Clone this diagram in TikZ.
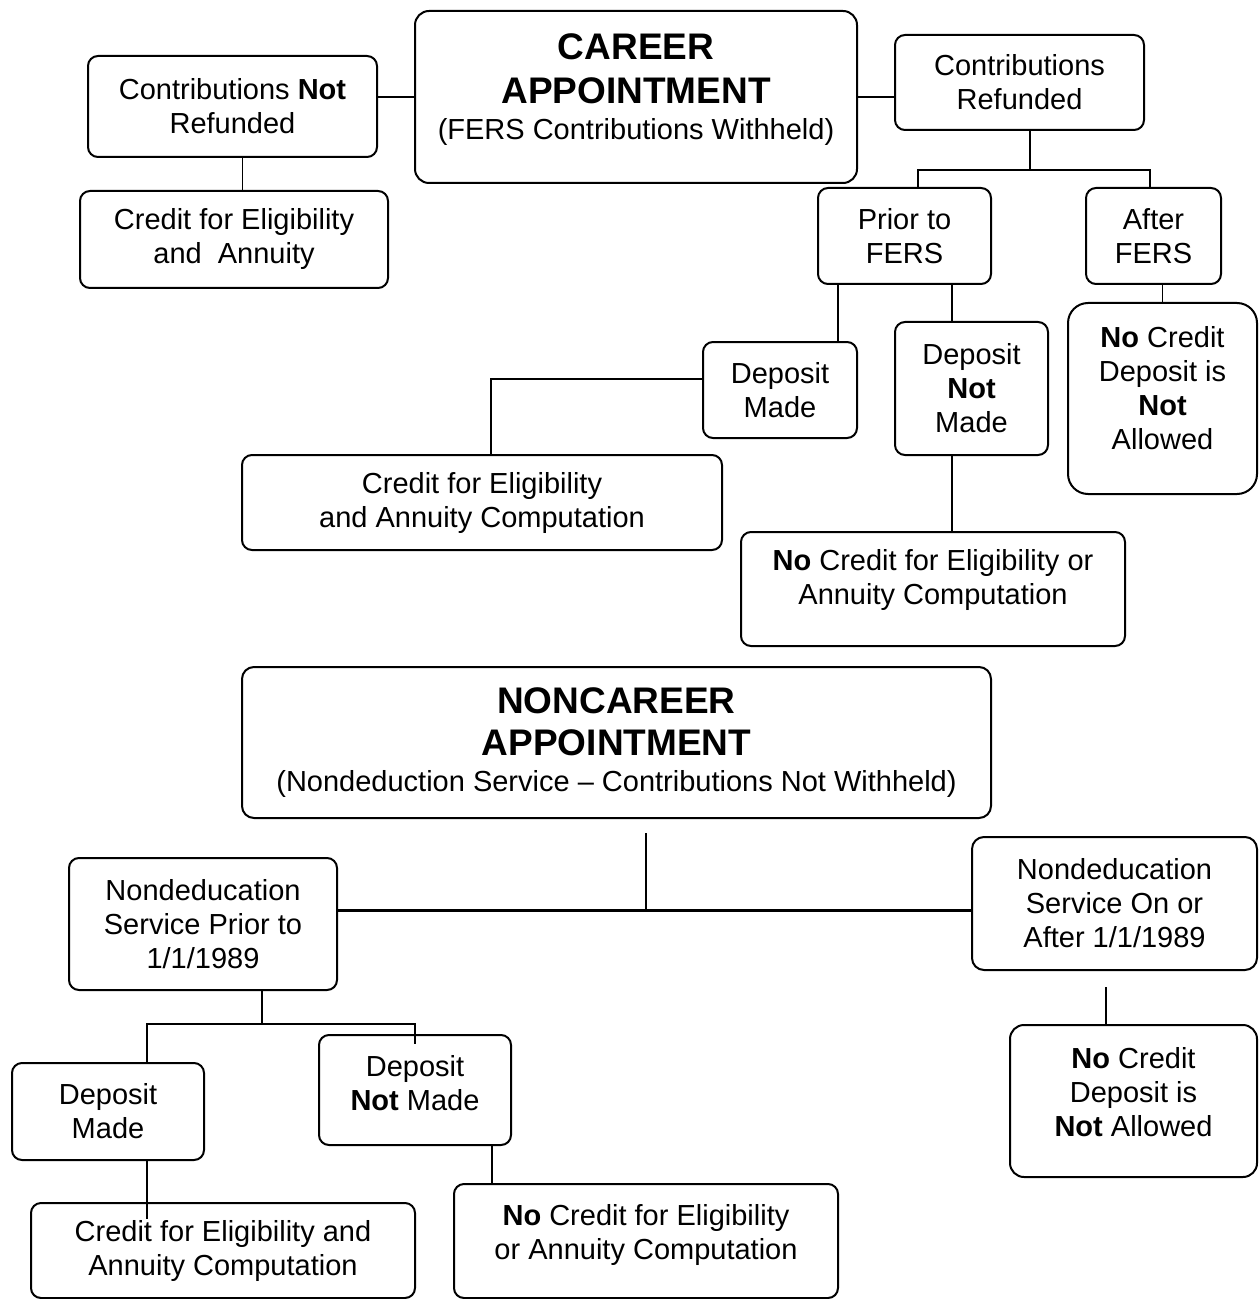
\documentclass[tikz,border=0pt]{standalone}
\usepackage{fontspec}
\setmainfont{Liberation Sans}
\newcommand{\titlefont}{\fontsize{18.5}{22}\selectfont\bfseries}
\newcommand{\subfont}{\fontsize{14.5}{18}\selectfont\mdseries}
\tikzset{
  box/.style={draw, line width=1pt, rounded corners=5pt, align=center, inner sep=0pt, font=\fontsize{14.5}{17}\selectfont},
  txt/.style={align=center, inner sep=0pt, font=\fontsize{14.5}{17}\selectfont},
  link/.style={line width=0.75pt},
}
\begin{document}
\begin{tikzpicture}[x=0.5pt, y=-0.5pt]
\useasboundingbox (0,0) rectangle (1258,1299);

% career appointment
\node[box, rounded corners=7pt, minimum width=221pt, minimum height=86pt] (career) at (636,97) {};
\node[txt] (career-t) at ([yshift=3.5pt]career.center) {\titlefont CAREER\\[5pt]\titlefont APPOINTMENT\\[1pt]\subfont(FERS Contributions Withheld)};
\node[box, minimum width=144.5pt, minimum height=50.5pt] (notref) at (232.5,106.5) {Contributions \textbf{Not}\\Refunded};
\node[box, minimum width=154pt, minimum height=48.5pt] (credea) at (234,239.5) {Credit for Eligibility\\and~~Annuity};
\node[box, minimum width=124.5pt, minimum height=47.5pt] (contref) at (1019.5,82.5) {Contributions\\Refunded};
\node[box, minimum width=86.5pt, minimum height=48pt] (prior) at (904.5,236) {Prior to\\FERS};
\node[box, minimum width=67.5pt, minimum height=48pt] (after) at (1153.5,236) {After\\FERS};
\node[box, minimum width=77pt, minimum height=48pt] (depmade) at (780,390) {Deposit\\Made};
\node[box, minimum width=76.5pt, minimum height=66.5pt] (depnot) at (971.5,388.5) {Deposit\\\textbf{Not}\\Made};
\node[box, rounded corners=10pt, minimum width=94.5pt, minimum height=95.5pt] (nocrafter) at (1162.5,398.5) {};
\node[txt] (nocrafter-t) at ([yshift=5pt]nocrafter.center) {\textbf{No} Credit\\Deposit is\\\textbf{Not}\\Allowed};
\node[box, minimum width=240pt, minimum height=47.5pt] (credeac) at (482,502.5) {Credit for Eligibility\\and Annuity Computation};
\node[box, minimum width=192pt, minimum height=57pt] (nocrea) at (933,589) {};
\node[txt] (nocrea-t) at ([yshift=4.5pt]nocrea.center) {\textbf{No} Credit for Eligibility or\\Annuity Computation};

% noncareer appointment
\node[box, rounded corners=6pt, minimum width=374.5pt, minimum height=75.5pt] (noncareer) at (616.5,742.5) {\titlefont NONCAREER\\[4pt]\titlefont APPOINTMENT\\[1pt]\subfont(Nondeduction Service -- Contributions Not Withheld)};
\node[box, minimum width=134pt, minimum height=66pt] (ndprior) at (203,924) {Nondeducation\\Service Prior to\\1/1/1989};
\node[box, rounded corners=6pt, minimum width=142.5pt, minimum height=66.5pt] (ndafter) at (1114.5,903.5) {Nondeducation\\Service On or\\After 1/1/1989};
\node[box, rounded corners=7pt, minimum width=123.5pt, minimum height=76pt] (nocrnd) at (1133.5,1101) {};
\node[txt] (nocrnd-t) at ([yshift=4.5pt]nocrnd.center) {\textbf{No} Credit\\Deposit is\\\textbf{Not} Allowed};
\node[box, minimum width=96pt, minimum height=48.5pt] (depmade2) at (108,1111.5) {Deposit\\Made};
\node[box, minimum width=96pt, minimum height=55pt] (depnot2) at (415,1090) {};
\node[txt] (depnot2-t) at ([yshift=3.5pt]depnot2.center) {Deposit\\\textbf{Not} Made};
\node[box, minimum width=192pt, minimum height=47.5pt] (credeac2) at (223,1250.5) {Credit for Eligibility and\\Annuity Computation};
\node[box, minimum width=192pt, minimum height=57pt] (nocrnd2) at (646,1241) {};
\node[txt] (nocrnd2-t) at ([yshift=3pt]nocrnd2.center) {\textbf{No} Credit for Eligibility\\or Annuity Computation};

% branch points
\coordinate (cr) at (1030,170);
\coordinate (crl) at (918,170);
\coordinate (crr) at (1150,170);
\coordinate (pl) at (838,300);
\coordinate (prr) at (952,300);
\coordinate (dm) at (491,379);
\coordinate (nc) at (646,910);
\coordinate (np) at (262,1024);
\coordinate (npl) at (147,1024);
\coordinate (npr) at (415,1024);
\coordinate (na) at (1106,987);
\coordinate (dn) at (492,1160);

% connectors
\draw[link] (career.west -| notref.east) -- (career.west);
\draw[link] (career.east) -- (career.east -| contref.west);
\draw[link] ([xshift=5pt]notref.south) -- ([xshift=5pt]notref.south |- credea.north);
\draw[link] (cr |- contref.south) -- (cr);
\draw[link] (crl |- prior.north) |- (crr) -- (crr |- after.north);
\draw[link] (pl |- prior.south) -- (pl |- depmade.north);
\draw[link] (prr |- prior.south) -- (prr |- depnot.north);
\draw[link] (after.south -| nocrafter.north) -- (nocrafter.north);
\draw[link] (dm -| depmade.west) -- (dm) -- (dm |- credeac.north);
\draw[link] (prr |- depnot.south) -- (prr |- nocrea.north);
\draw[link] (nc) -- ++(0,-77);
\draw[line width=1.5pt] (nc -| ndprior.east) -- (nc -| ndafter.west);
\draw[link] (np |- ndprior.south) -- (np);
\draw[link] (npl |- depmade2.north) |- (npr) -- ++(0,20);
\draw[link] (na) -- (na |- nocrnd.north);
\draw[link] (npl |- depmade2.south) -- ++(0,58);
\draw[link] (dn |- depnot2.south) -- (dn |- nocrnd2.north);
\end{tikzpicture}
\end{document}
